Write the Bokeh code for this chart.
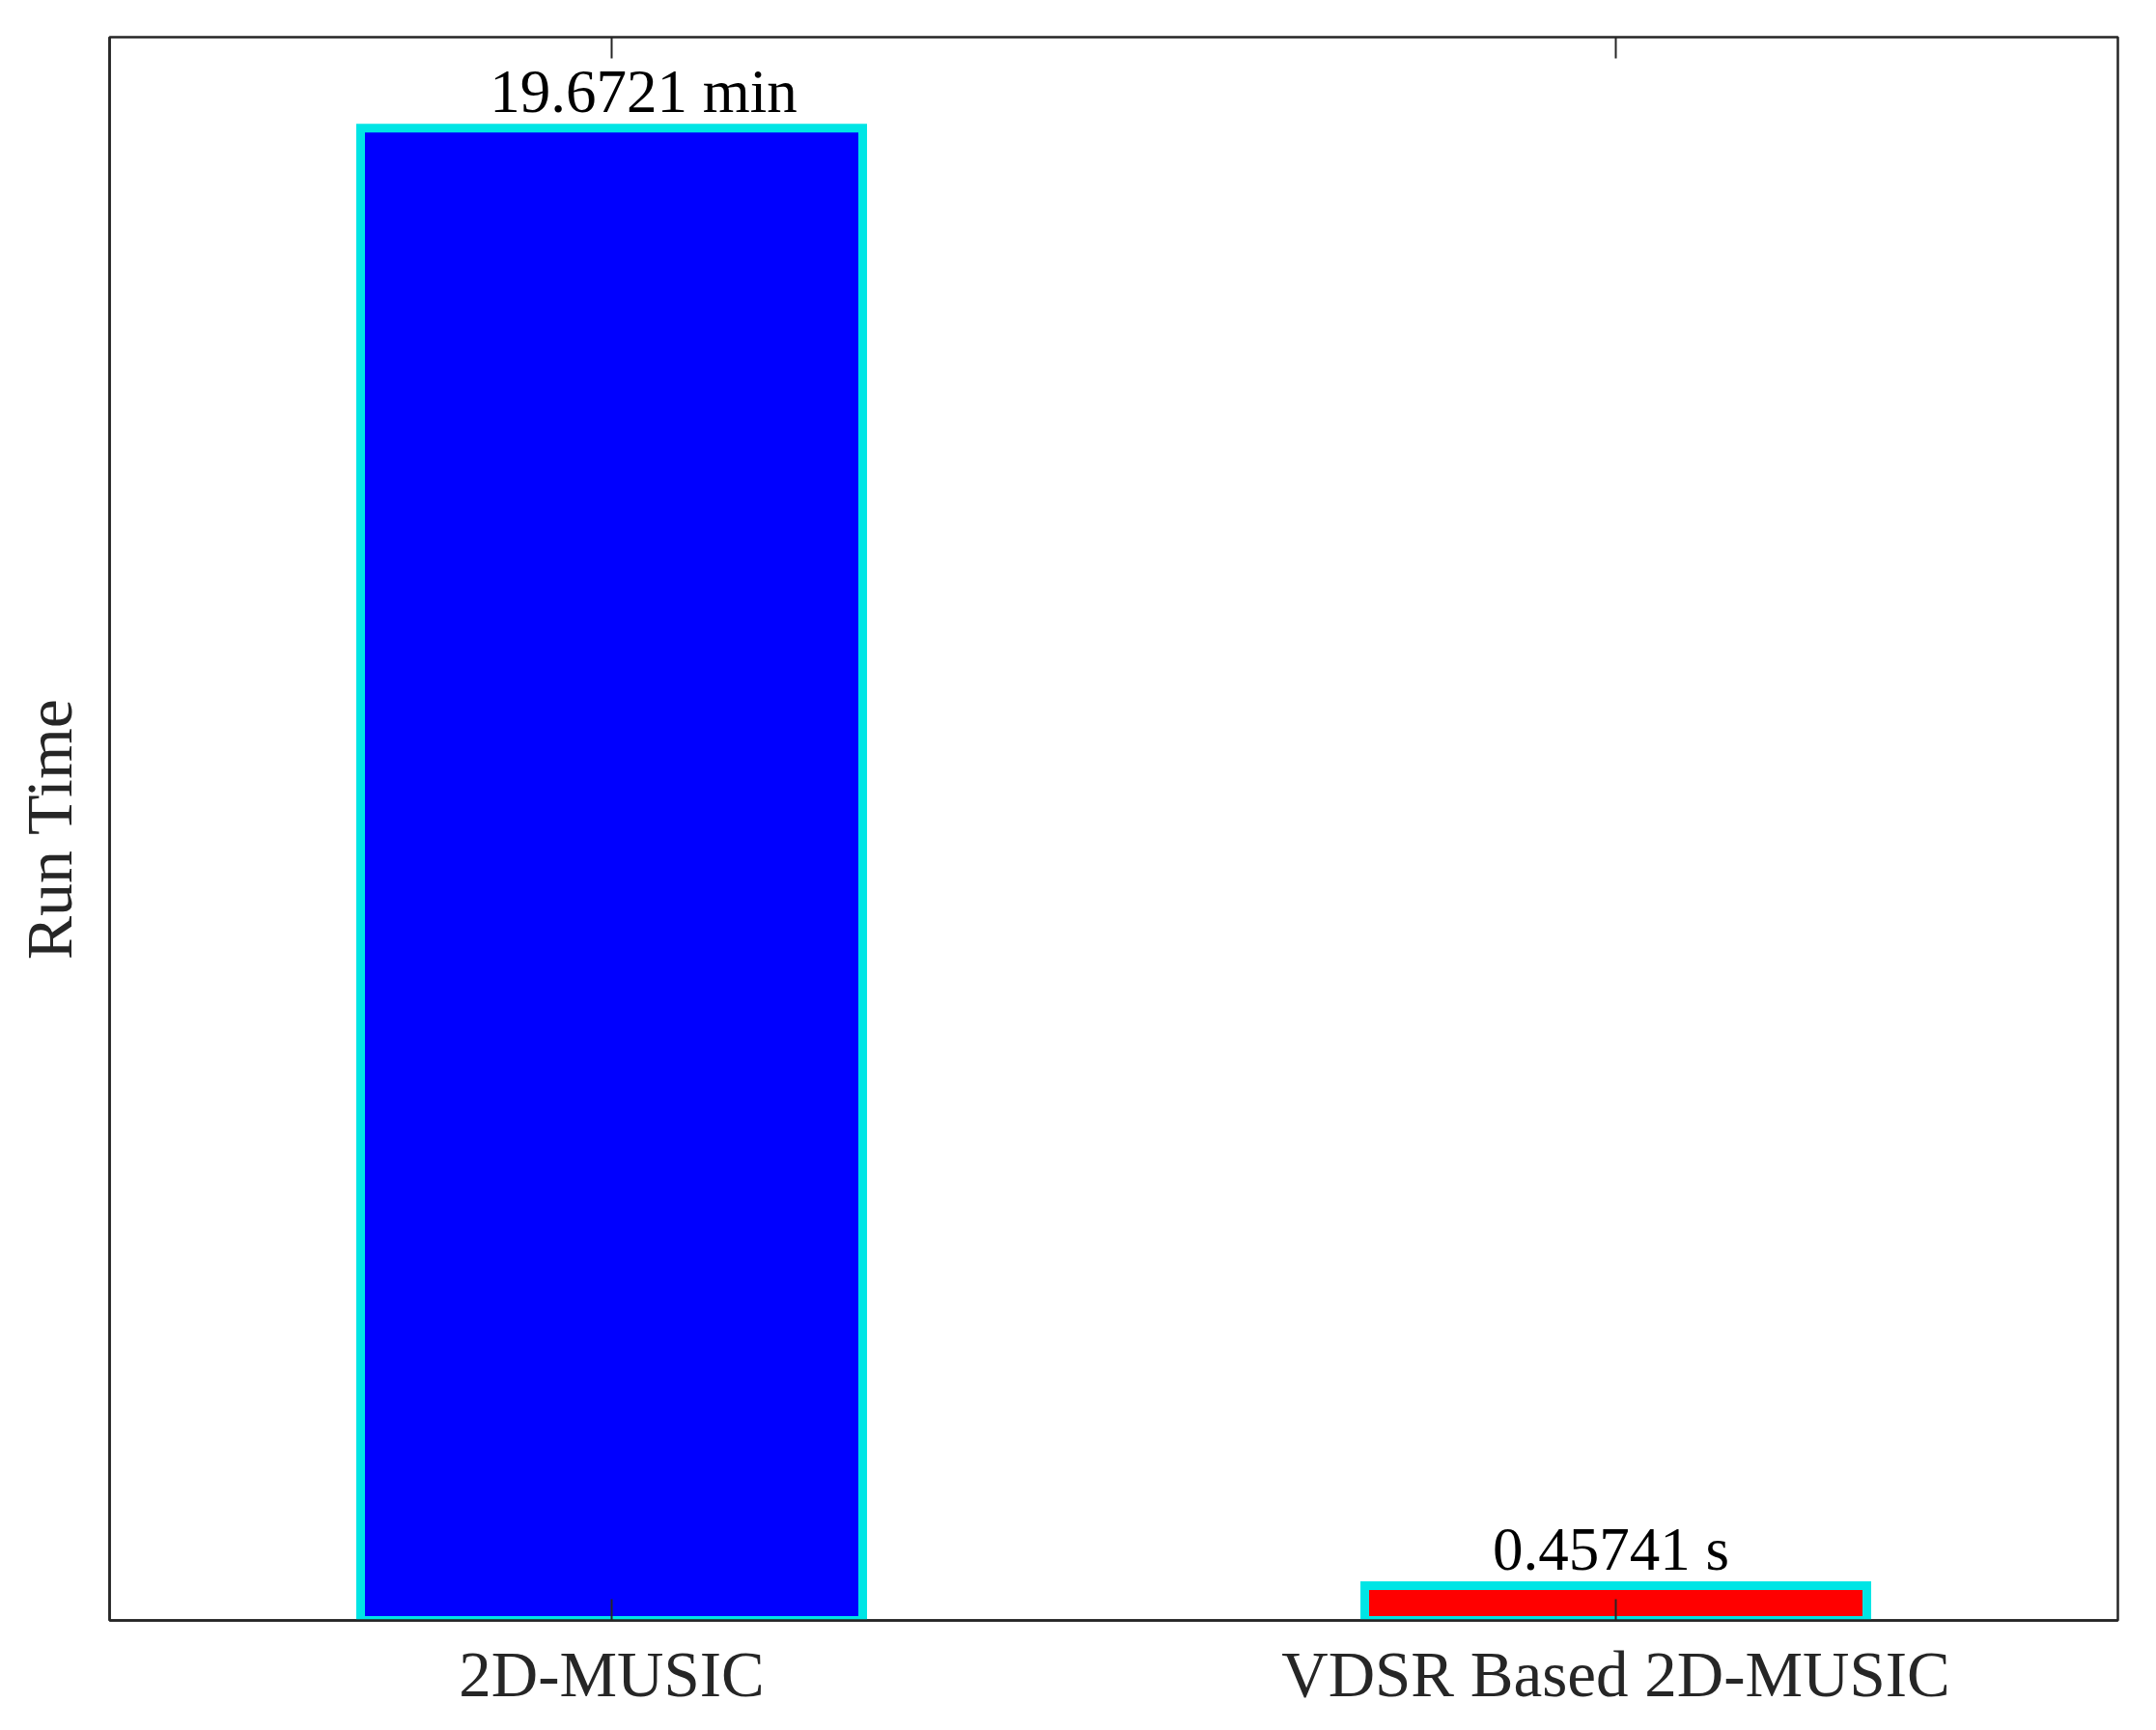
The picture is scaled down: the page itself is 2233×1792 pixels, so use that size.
from bokeh.plotting import figure
from bokeh.models import Range1d, FixedTicker, LinearAxis, ColumnDataSource
from bokeh.core.properties import value
from bokeh.embed import file_html
from bokeh.resources import INLINE

# ---- data ----
categories = ["2D-MUSIC", "VDSR Based 2D-MUSIC"]
positions = [1, 2]
run_times = [19.6721, 0.45741]
value_labels = ["19.6721 min", "0.45741 s"]
bar_colors = ["#0000FF", "#FF0000"]
label_dx = [33, -5]

AX = "#262626"

p = figure(width=2217, height=1776, output_backend="svg", toolbar_location=None,
           x_range=Range1d(0.5, 2.5), y_range=Range1d(0, 20.87),
           x_axis_type=None, y_axis_type=None)
p.min_border_left = 113
p.min_border_right = 24
p.min_border_top = 38
p.min_border_bottom = 98
p.background_fill_color = "white"
p.border_fill_color = "white"
p.outline_line_color = AX
p.outline_line_width = 2.5
p.xgrid.visible = False
p.ygrid.visible = False

src = ColumnDataSource(dict(x=positions, top=run_times, color=bar_colors,
                            label=value_labels, dx=label_dx))

p.vbar(x="x", top="top", width=0.5, bottom=0, source=src,
       fill_color="color", line_color="#00E5E5", line_width=9, line_join="miter")

p.text(x="x", y="top", text="label", source=src, x_offset="dx", y_offset=-38,
       text_align="center", text_baseline="alphabetic",
       text_font=value("Liberation Serif"), text_font_size="63px", text_color="black")

tick_overrides = {pos: name for pos, name in zip(positions, categories)}

xb = LinearAxis(ticker=FixedTicker(ticks=positions))
xb.major_label_overrides = tick_overrides
xb.major_label_text_font = "Liberation Serif"
xb.major_label_text_font_size = "67px"
xb.major_label_text_color = AX
xb.major_label_standoff = 18
xb.major_tick_in = 22
xb.major_tick_out = 0
xb.major_tick_line_color = AX
xb.major_tick_line_width = 2
xb.minor_tick_line_color = None
xb.axis_line_color = AX
xb.axis_line_width = 2.5
p.add_layout(xb, "below")

xt = LinearAxis(ticker=FixedTicker(ticks=positions))
xt.major_label_overrides = {pos: "" for pos in positions}
xt.major_label_standoff = 0
xt.major_tick_in = 22
xt.major_tick_out = 0
xt.major_tick_line_color = AX
xt.major_tick_line_width = 2
xt.minor_tick_line_color = None
xt.axis_line_color = None
p.add_layout(xt, "above")

yl = LinearAxis(ticker=FixedTicker(ticks=[]))
yl.axis_label = "Run Time"
yl.axis_label_text_font = "Liberation Serif"
yl.axis_label_text_font_size = "68px"
yl.axis_label_text_font_style = "normal"
yl.axis_label_text_color = AX
yl.axis_label_standoff = 25
yl.major_label_standoff = 0
yl.major_tick_in = 0
yl.major_tick_out = 0
yl.minor_tick_line_color = None
yl.axis_line_color = AX
yl.axis_line_width = 2.5
p.add_layout(yl, "left")

open("out.html", "w").write(file_html(p, INLINE))
